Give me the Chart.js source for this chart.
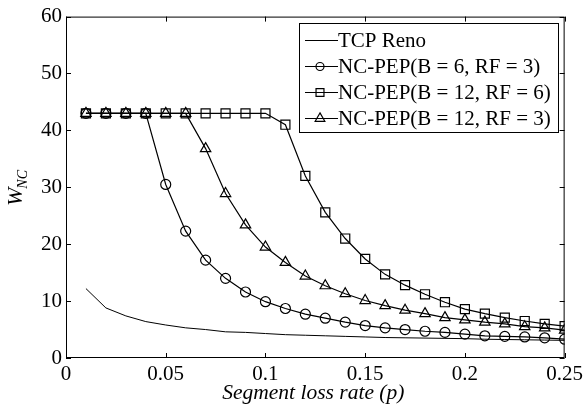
<!DOCTYPE html>
<html>
<head>
<meta charset="utf-8">
<script src="https://cdn.jsdelivr.net/npm/chart.js@4.4.1/dist/chart.umd.min.js"></script>
<style>
  html, body { margin: 0; padding: 0; background: #fff; }
  #wrap { width: 587px; height: 406px; }
</style>
</head>
<body>
<div id="wrap"><canvas id="myChart" width="587" height="406"></canvas></div>
<script>
// loss rates (x)
const lossRates = [0.01, 0.02, 0.03, 0.04, 0.05, 0.06, 0.07, 0.08, 0.09, 0.10,
                   0.11, 0.12, 0.13, 0.14, 0.15, 0.16, 0.17, 0.18, 0.19, 0.20,
                   0.21, 0.22, 0.23, 0.24, 0.25];

const tcpReno = [12.2, 8.8, 7.4, 6.4, 5.8, 5.3, 5.0, 4.6, 4.5, 4.3,
                 4.1, 4.0, 3.9, 3.8, 3.7, 3.6, 3.55, 3.5, 3.45, 3.4,
                 3.3, 3.25, 3.2, 3.15, 3.1];

const pepB6RF3 = [43, 43, 43, 43, 30.5, 22.3, 17.2, 14.0, 11.6, 9.9,
                  8.7, 7.7, 7.0, 6.3, 5.7, 5.3, 5.0, 4.7, 4.5, 4.2,
                  3.9, 3.8, 3.7, 3.55, 3.3];

const pepB12RF6 = [43, 43, 43, 43, 43, 43, 43, 43, 43, 43,
                   41.0, 32.0, 25.6, 21.0, 17.4, 14.7, 12.8, 11.2, 9.8, 8.6,
                   7.8, 7.1, 6.5, 6.0, 5.6];

const pepB12RF3 = [43, 43, 43, 43, 43, 43, 36.8, 28.9, 23.4, 19.5,
                   16.8, 14.4, 12.7, 11.3, 10.1, 9.2, 8.4, 7.8, 7.1, 6.7,
                   6.3, 6.0, 5.5, 5.3, 4.9];

const seriesNames = ["TCP Reno", "NC-PEP(B = 6, RF = 3)", "NC-PEP(B = 12, RF = 6)", "NC-PEP(B = 12, RF = 3)"];
const xTicks = [0, 0.05, 0.1, 0.15, 0.2, 0.25];
const yTicks = [0, 10, 20, 30, 40, 50, 60];

const FONT = "'Liberation Serif', 'Times New Roman', serif";

function pts(vals) {
    return vals.map((v, i) => ({ x: lossRates[i], y: v }));
}

function drawMarker(ctx, style, x, y, r) {
    ctx.beginPath();
    if (style === "circle") {
        ctx.arc(x, y, r, 0, Math.PI * 2);
    } else if (style === "rect") {
        const s = r * Math.SQRT1_2;
        ctx.rect(x - s, y - s, 2 * s, 2 * s);
    } else if (style === "triangle") {
        ctx.moveTo(x, y - r);
        ctx.lineTo(x + r * Math.sin(Math.PI / 3), y + r * 0.5);
        ctx.lineTo(x - r * Math.sin(Math.PI / 3), y + r * 0.5);
        ctx.closePath();
    }
    ctx.stroke();
}

// legend marker sizes (smaller than in the plot)
const legendRadius = { circle: 4, rect: 5.6, triangle: 5.6 };

// inner ticks, frame, axis titles and legend
const decorations = {
    id: "decorations",
    afterDraw(chart) {
        const ctx = chart.ctx;
        const a = chart.chartArea;
        const xs = chart.scales.x, ys = chart.scales.y;
        ctx.save();
        ctx.strokeStyle = "#000";
        ctx.lineWidth = 1;
        ctx.strokeRect(a.left + 0.5, a.top + 0.5, a.right - a.left - 1, a.bottom - a.top - 1);
        const tl = 5;
        ctx.beginPath();
        xTicks.forEach(v => {
            const px = Math.round(xs.getPixelForValue(v)) + 0.5;
            ctx.moveTo(px, a.bottom); ctx.lineTo(px, a.bottom - tl);
            ctx.moveTo(px, a.top); ctx.lineTo(px, a.top + tl);
        });
        yTicks.forEach(v => {
            const py = Math.round(ys.getPixelForValue(v)) + 0.5;
            ctx.moveTo(a.left, py); ctx.lineTo(a.left + tl, py);
            ctx.moveTo(a.right, py); ctx.lineTo(a.right - tl, py);
        });
        ctx.stroke();

        // x title
        ctx.fillStyle = "#000";
        ctx.font = "italic 21.5px " + FONT;
        ctx.textAlign = "center";
        ctx.textBaseline = "alphabetic";
        ctx.fillText("Segment loss rate (p)", (a.left + a.right) / 2 - 2, 399);

        // y title W_NC
        ctx.save();
        ctx.translate(22, 206);
        ctx.rotate(-Math.PI / 2);
        ctx.textAlign = "left";
        ctx.font = "italic 22px " + FONT;
        ctx.fillText("W", 0, 0);
        const wW = ctx.measureText("W").width;
        ctx.font = "italic 14px " + FONT;
        ctx.fillText("NC", wW - 1, 5);
        ctx.restore();

        // legend
        const lx = 299, ly = 23, lw = 259, lh = 109;
        ctx.fillStyle = "#fff";
        ctx.fillRect(lx, ly, lw, lh);
        ctx.strokeRect(lx + 0.5, ly + 0.5, lw, lh);
        ctx.font = "21px " + FONT;
        ctx.textAlign = "left";
        ctx.textBaseline = "middle";
        chart.data.datasets.forEach((ds, i) => {
            const cy = ly + 17 + i * 26;
            ctx.strokeStyle = "#000";
            ctx.lineWidth = 1;
            ctx.beginPath();
            ctx.moveTo(lx + 6, cy + 0.5); ctx.lineTo(lx + 39, cy + 0.5);
            ctx.stroke();
            if (ds.pointRadius > 0) {
                ctx.lineWidth = 1.2;
                drawMarker(ctx, ds.pointStyle, lx + 21, cy + 0.5, legendRadius[ds.pointStyle]);
            }
            ctx.fillStyle = "#000";
            ctx.fillText(seriesNames[i], lx + 39, cy + 1);
        });
        ctx.restore();
    }
};

const ctx = document.getElementById("myChart").getContext("2d");
const myChart = new Chart(ctx, {
    type: "line",
    data: {
        datasets: [
            { label: seriesNames[0], data: pts(tcpReno), borderColor: "#000", borderWidth: 1,
              pointRadius: 0, pointStyle: "circle" },
            { label: seriesNames[1], data: pts(pepB6RF3), borderColor: "#000", borderWidth: 1.2,
              pointStyle: "circle", pointRadius: 5, pointBorderWidth: 1.2,
              pointBackgroundColor: "rgba(0,0,0,0)", pointBorderColor: "#000" },
            { label: seriesNames[2], data: pts(pepB12RF6), borderColor: "#000", borderWidth: 1.2,
              pointStyle: "rect", pointRadius: 6.4, pointBorderWidth: 1.2,
              pointBackgroundColor: "rgba(0,0,0,0)", pointBorderColor: "#000" },
            { label: seriesNames[3], data: pts(pepB12RF3), borderColor: "#000", borderWidth: 1.2,
              pointStyle: "triangle", pointRadius: 6, pointBorderWidth: 1.2,
              pointBackgroundColor: "rgba(0,0,0,0)", pointBorderColor: "#000" }
        ]
    },
    options: {
        responsive: false,
        animation: false,
        devicePixelRatio: 1,
        layout: { padding: { top: 16, right: 19, left: 0, bottom: 0 } },
        plugins: { legend: { display: false }, tooltip: { enabled: false } },
        elements: { line: { tension: 0, fill: false } },
        scales: {
            x: {
                type: "linear", min: 0, max: 0.25,
                afterFit(s) { s.height = 48; },
                afterBuildTicks(s) { s.ticks = xTicks.map(v => ({ value: v })); },
                ticks: {
                    color: "#000", padding: 4,
                    font: { family: FONT, size: 21 },
                    callback: v => String(+v.toFixed(2))
                },
                grid: { display: false, drawTicks: false },
                border: { display: false }
            },
            y: {
                min: 0, max: 60,
                afterFit(s) { s.width = 66; },
                afterBuildTicks(s) { s.ticks = yTicks.map(v => ({ value: v })); },
                ticks: {
                    color: "#000", padding: 4,
                    font: { family: FONT, size: 21 }
                },
                grid: { display: false, drawTicks: false },
                border: { display: false }
            }
        }
    },
    plugins: [decorations]
});
</script>
</body>
</html>
